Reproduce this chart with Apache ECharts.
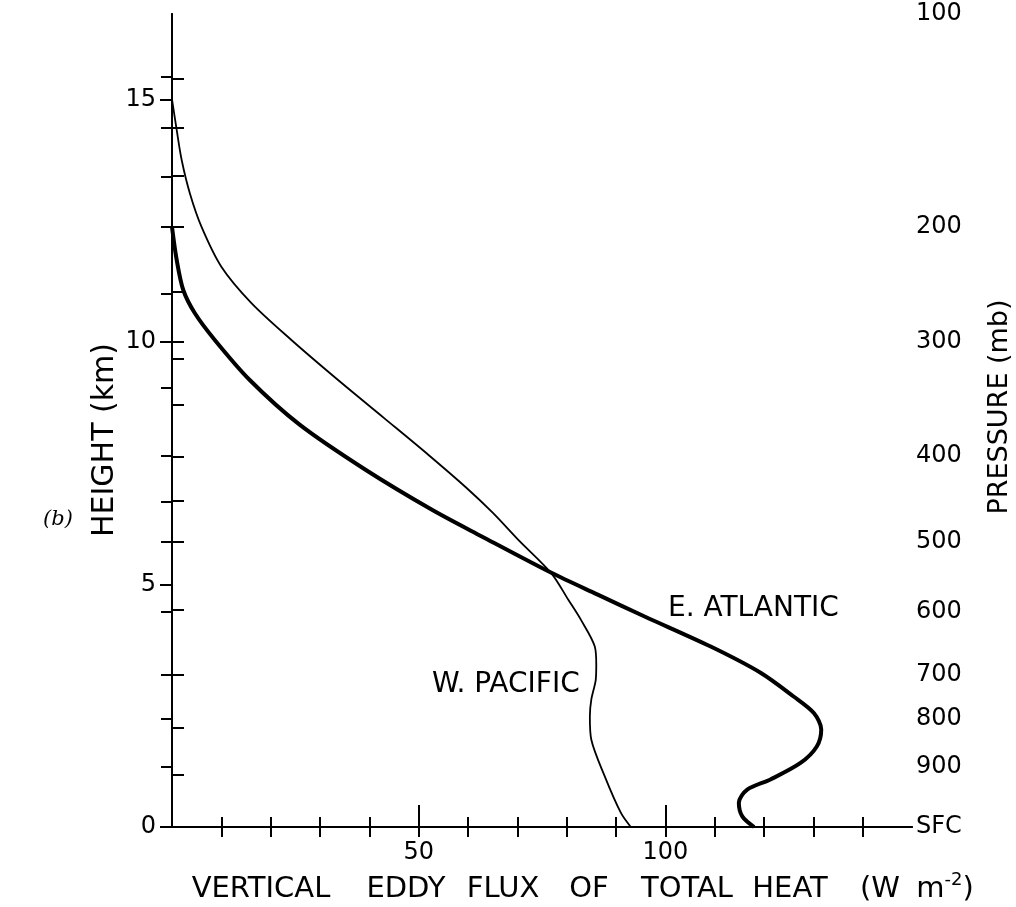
<!DOCTYPE html>
<html>
<head>
<meta charset="utf-8">
<script src="https://cdn.jsdelivr.net/npm/echarts@6/dist/echarts.min.js"></script>
<style>
html, body { margin: 0; padding: 0; background: #fff; }
#main { width: 1016px; height: 907px; }
</style>
</head>
<body>
<div id="main"></div>
<script>
// profiles, from top to bottom (height in km, flux in W m-2)
var pacificKm   = [15.0, 14.37, 13.75, 13.06, 12.37, 11.55, 10.8, 10.04, 9.22, 8.43, 7.67, 7.01, 6.48, 5.92, 5.23, 4.69, 4.27, 3.72, 3.35, 3.04, 2.63, 2.28, 1.8, 1.05, 0.29, 0];
var pacificFlux = [0, 0.95, 1.96, 3.63, 5.99, 10.0, 16.1, 24.2, 33.6, 43.0, 52.0, 59.5, 65.0, 70.2, 76.9, 80.3, 82.9, 85.7, 86.0, 85.9, 85.0, 84.7, 85.0, 87.7, 91.0, 93.0];

var atlanticKm   = [12.37, 11.69, 11.07, 10.59, 10.04, 9.22, 8.3, 7.36, 6.54, 5.99, 5.24, 4.79, 4.34, 3.72, 3.18, 2.69, 2.35, 2.01, 1.66, 1.32, 0.98, 0.77, 0.5, 0.22, 0];
var atlanticFlux = [0, 0.95, 2.28, 4.64, 8.67, 15.7, 25.8, 39.3, 52.7, 62.8, 76.9, 86.3, 95.8, 109.2, 119.3, 126.0, 130.1, 131.6, 130.7, 127.4, 121.3, 116.6, 114.9, 115.6, 118.0];

// axes
var fluxMax = 150;
var kmMax = 16.76;
var fluxTicks = [10, 20, 30, 40, 50, 60, 70, 80, 90, 100, 110, 120, 130, 140];
var fluxMajor = [50, 100];
var kmLabels = [0, 5, 10, 15];
var leftTickKm = [15.43, 14.41, 13.42, 12.37, 11.04, 10.0, 9.66, 8.7, 7.64, 6.73, 5.89, 4.47, 3.13, 2.04, 1.08];
var pressureTickKm = [15.46, 14.41, 13.4, 12.37, 11.0, 10.0, 9.05, 7.66, 6.7, 5.88, 4.43, 3.13, 2.24, 1.24];
var pressureLabelKm = [16.76, 12.37, 10.0, 7.66, 5.88, 4.43, 3.13, 2.24, 1.24, 0];
var pressureLabels = ['100', '200', '300', '400', '500', '600', '700', '800', '900', 'SFC'];

// x-axis title, one word at a time (the hand lettering is spaced out)
var titleWords = ['VERTICAL', 'EDDY', 'FLUX', 'OF', 'TOTAL', 'HEAT', '(W', 'm{sup|-2})'];
var titleWordX = [261, 406, 503, 589, 687, 790, 880, 945];

var font = 'DejaVu Sans';
var ink = '#000';

function pairs(xs, ys) {
    return xs.map(function (x, i) { return [x, ys[i]]; });
}

var myChart = echarts.init(document.getElementById('main'), null, { renderer: 'canvas' });

var lineBase = { show: true, lineStyle: { color: ink, width: 2 } };
var tickStyle = { color: ink, width: 2 };
var noSplit = { show: false };

var titleGraphics = titleWords.map(function (w, i) {
    return {
        type: 'text', x: titleWordX[i], y: 889,
        style: {
            text: w, fill: ink, fontSize: 29, fontFamily: font, textAlign: 'center', textVerticalAlign: 'middle', lineHeight: 36,
            rich: { sup: { fontSize: 18, fontFamily: font, verticalAlign: 'top', lineHeight: 36 } }
        }
    };
});

var option = {
    backgroundColor: '#fff',
    animation: false,
    grid: { left: 172, right: 104, top: 14, bottom: 80, outerBoundsMode: 'none' },
    xAxis: [
        {
            type: 'value', position: 'bottom', min: 0, max: fluxMax,
            axisLine: lineBase,
            axisTick: { inside: true, length: 10, customValues: fluxTicks, lineStyle: tickStyle },
            axisLabel: { customValues: fluxMajor, margin: 14, color: ink, fontSize: 24, fontFamily: font },
            splitLine: noSplit
        },
        {
            type: 'value', position: 'bottom', min: 0, max: fluxMax,
            axisLine: { show: false },
            axisTick: { inside: true, length: 22, customValues: fluxMajor, lineStyle: tickStyle },
            axisLabel: { show: false },
            splitLine: noSplit
        },
        {
            type: 'value', position: 'top', min: 0, max: fluxMax,
            axisLine: lineBase,
            axisTick: { inside: true, length: 10, customValues: fluxTicks, lineStyle: tickStyle },
            axisLabel: { show: false },
            splitLine: noSplit
        }
    ],
    yAxis: [
        {
            type: 'value', position: 'left', min: 0, max: kmMax,
            axisLine: lineBase,
            axisTick: { inside: false, length: 12, customValues: kmLabels, lineStyle: tickStyle },
            axisLabel: { customValues: kmLabels, margin: 16, color: ink, fontSize: 24, fontFamily: font },
            splitLine: noSplit
        },
        {
            type: 'value', position: 'left', min: 0, max: kmMax,
            axisLine: { show: false },
            axisTick: { inside: true, length: 12, customValues: leftTickKm, lineStyle: tickStyle },
            axisLabel: { show: false },
            splitLine: noSplit
        },
        {
            type: 'value', position: 'right', min: 0, max: kmMax,
            axisLine: lineBase,
            axisTick: { inside: true, length: 11, customValues: pressureTickKm, lineStyle: tickStyle },
            axisLabel: {
                customValues: pressureLabelKm, margin: 4, color: ink, fontSize: 24, fontFamily: font,
                formatter: function (v) {
                    var i = pressureLabelKm.indexOf(v);
                    return i < 0 ? '' : pressureLabels[i];
                }
            },
            splitLine: noSplit
        }
    ],
    series: [
        {
            name: 'W. PACIFIC', type: 'line', xAxisIndex: 0, yAxisIndex: 0,
            data: pairs(pacificFlux, pacificKm),
            smooth: 0.3, showSymbol: false, clip: false,
            lineStyle: { color: ink, width: 1.8 }
        },
        {
            name: 'E. ATLANTIC', type: 'line', xAxisIndex: 0, yAxisIndex: 0,
            data: pairs(atlanticFlux, atlanticKm),
            smooth: 0.3, showSymbol: false, clip: false,
            lineStyle: { color: ink, width: 4 }
        }
    ],
    graphic: titleGraphics.concat([
        {
            type: 'text', x: 668, y: 609,
            style: { text: 'E. ATLANTIC', fill: ink, fontSize: 28, fontFamily: font, textVerticalAlign: 'middle' }
        },
        {
            type: 'text', x: 432, y: 685,
            style: { text: 'W. PACIFIC', fill: ink, fontSize: 28, fontFamily: font, textVerticalAlign: 'middle' }
        },
        {
            type: 'text', x: 105, y: 440, rotation: Math.PI / 2,
            style: { text: 'HEIGHT (km)', fill: ink, fontSize: 30, fontFamily: font, textAlign: 'center', textVerticalAlign: 'middle' }
        },
        {
            type: 'text', x: 1000, y: 407, rotation: Math.PI / 2,
            style: { text: 'PRESSURE (mb)', fill: ink, fontSize: 27, fontFamily: font, textAlign: 'center', textVerticalAlign: 'middle' }
        },
        {
            type: 'text', x: 58, y: 520,
            style: { text: '(b)', fill: ink, fontSize: 21, fontFamily: 'DejaVu Serif', fontStyle: 'italic', textAlign: 'center', textVerticalAlign: 'middle' }
        }
    ])
};

myChart.setOption(option, true);
</script>
</body>
</html>
